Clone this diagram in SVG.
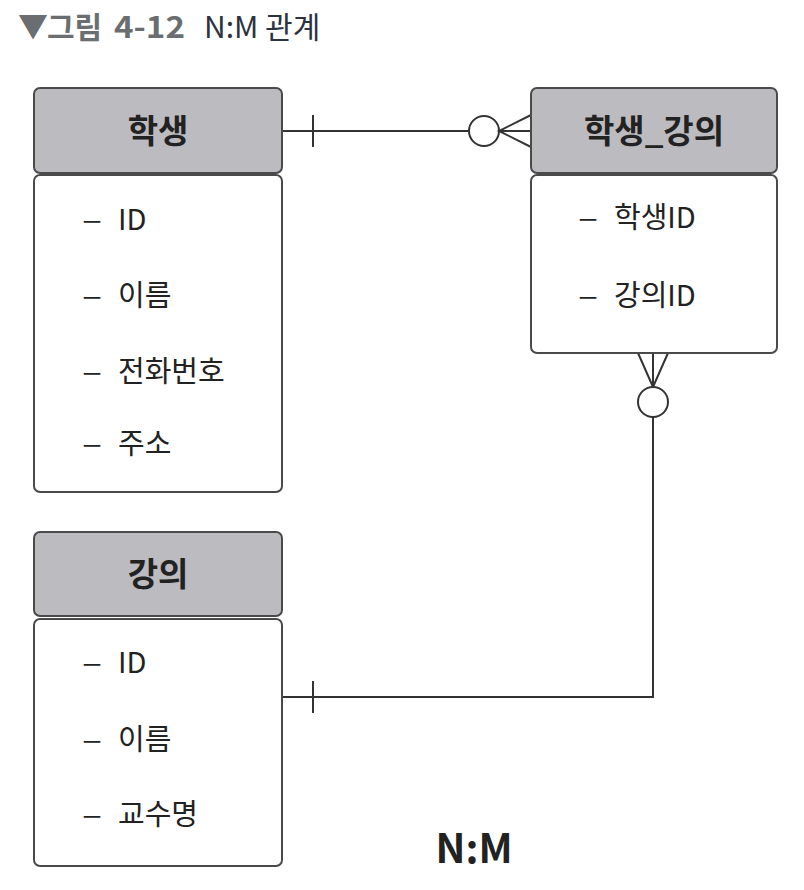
<svg xmlns="http://www.w3.org/2000/svg" width="804" height="890" viewBox="0 0 804 890">
<style>
.hd{fill:#bcbbc0;stroke:#4a4a4a;stroke-width:2}
.bd{fill:#fff;stroke:#4a4a4a;stroke-width:2}
.ht{font-family:"Noto Sans CJK KR","Noto Sans",sans-serif;font-weight:bold;font-size:33px;fill:#222;text-anchor:middle}
.it{font-family:"Noto Sans CJK KR","Noto Sans",sans-serif;font-size:29px;fill:#222}
.ti{font-family:"Noto Sans CJK KR","Noto Sans",sans-serif;font-size:30px}
.ln{fill:none;stroke:#333;stroke-width:2}
.ci{fill:#fff;stroke:#333;stroke-width:2}
</style>
<rect width="804" height="890" fill="#fff"/>
<g id="title">
<text class="ti" x="18" y="37" font-size="24" fill="#6b6e70">▼</text>
<text class="ti" x="47" y="38" font-weight="bold" fill="#6b6e70">그림</text>
<text class="ti" x="114" y="38" font-weight="bold" fill="#6b6e70" textLength="71" lengthAdjust="spacingAndGlyphs">4-12</text>
<text class="ti" x="204" y="38" fill="#2c3340">N:M 관계</text>
</g>
<g id="connectors">
<path class="ln" d="M282,131 H469"/>
<path class="ln" d="M313,115 V147"/>
<circle class="ci" cx="484" cy="131" r="15"/>
<path class="ln" d="M531,115 L499,131 L531,147 M499,131 H531"/>
<path class="ln" d="M653,353 V387 M638,353 L653,387 L668,353"/>
<circle class="ci" cx="653" cy="402" r="15"/>
<path class="ln" d="M653,417 V697 H282"/>
<path class="ln" d="M313,681 V713"/>
</g>
<g id="student">
<rect class="hd" x="34" y="88" width="248" height="85" rx="6"/>
<text class="ht" x="158" y="143">학생</text>
<rect class="bd" x="34" y="175" width="248" height="317" rx="6"/>
<text class="it" x="82" y="230" textLength="20" lengthAdjust="spacingAndGlyphs">–</text><text class="it" x="118" y="230">ID</text>
<text class="it" x="82" y="306" textLength="20" lengthAdjust="spacingAndGlyphs">–</text><text class="it" x="118" y="306">이름</text>
<text class="it" x="82" y="382" textLength="20" lengthAdjust="spacingAndGlyphs">–</text><text class="it" x="118" y="382">전화번호</text>
<text class="it" x="82" y="454" textLength="20" lengthAdjust="spacingAndGlyphs">–</text><text class="it" x="118" y="454">주소</text>
</g>
<g id="student_course">
<rect class="hd" x="531" y="88" width="246" height="85" rx="6"/>
<text class="ht" x="654" y="143">학생_강의</text>
<rect class="bd" x="531" y="175" width="246" height="178" rx="6"/>
<text class="it" x="578" y="228" textLength="20" lengthAdjust="spacingAndGlyphs">–</text><text class="it" x="614" y="228">학생ID</text>
<text class="it" x="578" y="306" textLength="20" lengthAdjust="spacingAndGlyphs">–</text><text class="it" x="614" y="306">강의ID</text>
</g>
<g id="course">
<rect class="hd" x="34" y="532" width="248" height="84" rx="6"/>
<text class="ht" x="158" y="586">강의</text>
<rect class="bd" x="34" y="619" width="248" height="247" rx="6"/>
<text class="it" x="82" y="673" textLength="20" lengthAdjust="spacingAndGlyphs">–</text><text class="it" x="118" y="673">ID</text>
<text class="it" x="82" y="750" textLength="20" lengthAdjust="spacingAndGlyphs">–</text><text class="it" x="118" y="750">이름</text>
<text class="it" x="82" y="825" textLength="20" lengthAdjust="spacingAndGlyphs">–</text><text class="it" x="118" y="825">교수명</text>
</g>
<text x="474" y="863" font-family="'Noto Sans CJK KR','Noto Sans',sans-serif" font-size="40" font-weight="bold" fill="#222" text-anchor="middle">N:M</text>
</svg>
